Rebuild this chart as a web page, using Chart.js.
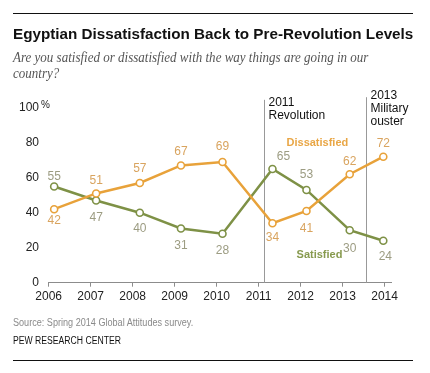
<!DOCTYPE html>
<html>
<head>
<meta charset="utf-8">
<script src="https://cdn.jsdelivr.net/npm/chart.js@4.4.1/dist/chart.umd.min.js"></script>
<style>
  html, body { margin: 0; padding: 0; background: #fff; }
  #wrap { position: relative; width: 430px; height: 373px; overflow: hidden; }
  canvas { position: absolute; left: 0; top: 0; }
  .rule { position: absolute; left: 13px; width: 400px; height: 1px; background: #111; }
  .txt { position: absolute; left: 13px; white-space: nowrap; display: inline-block; transform-origin: 0 0; }
  #title { top: 26px; font: bold 15px/15px "Liberation Sans", Arial, sans-serif; color: #111; }
  .sub { font: italic 14px/14px "Liberation Serif", serif; color: #555; }
  #src { top: 318px; font: 10px/10px "Liberation Sans", Arial, sans-serif; color: #8a8a8a; }
  #pew { top: 336px; font: 10px/10px "Liberation Sans", Arial, sans-serif; color: #111; }
</style>
</head>
<body>
<div id="wrap">
  <canvas id="chart" width="430" height="373"></canvas>
  <div class="rule" style="top:13px"></div>
  <div class="txt" id="title" data-w="400">Egyptian Dissatisfaction Back to Pre-Revolution Levels</div>
  <div class="txt sub" id="sub1" style="top:51px" data-w="355">Are you satisfied or dissatisfied with the way things are going in our</div>
  <div class="txt sub" id="sub2" style="top:67px">country?</div>
  <div class="txt" id="src" data-w="180">Source: Spring 2014 Global Attitudes survey.</div>
  <div class="txt" id="pew" data-w="108">PEW RESEARCH CENTER</div>
  <div class="rule" style="top:360px"></div>
</div>
<script>
// survey dates (fractional years) and answers, in %
const surveyDates = [2006.13, 2007.13, 2008.17, 2009.15, 2010.14, 2011.33, 2012.14, 2013.17, 2013.97]
const dissatisfied = [42, 51, 57, 67, 69, 34, 41, 62, 72]
const satisfied = [55, 47, 40, 31, 28, 65, 53, 30, 24]
const yearTicks = [2006, 2007, 2008, 2009, 2010, 2011, 2012, 2013, 2014]
const yTicks = [0, 20, 40, 60, 80, 100]
const events = [
  {x: 2011.12, top: 104.5, labelY: 103, lines: ['2011', 'Revolution']},
  {x: 2013.55, top: 106, labelY: 107, lines: ['2013', 'Military', 'ouster']}
]

// fit header / footer text widths
document.querySelectorAll('.txt').forEach(el => {
  const w = el.dataset.w
  if (w) el.style.transform = 'scaleX(' + (w / el.scrollWidth) + ')'
})
const s1 = document.getElementById('sub1')
document.getElementById('sub2').style.transform = s1.style.transform

const ORANGE = '#e8a23a'
const GREEN = '#7e9146'
const FONT = '"Liberation Sans", Arial, sans-serif'

const toPoints = vals => vals.map((v, i) => ({x: surveyDates[i], y: v}))

// label offsets (px) for each point's value
const labelOffsets = {
  0: [[0, 11], [0, -13], [0, -14], [0, -14], [0, -15], [0, 14], [0, 18], [0, -13], [0, -13]],
  1: [[0, -10], [0, 17], [0, 16], [0, 17], [0, 17], [11, -12], [0, -15], [0, 18], [2, 16]]
}

const overlay = {
  id: 'overlay',
  beforeDatasetsDraw(chart) {
    const {ctx, scales: {x, y}, chartArea} = chart
    ctx.save()
    events.forEach(ev => {
      const px = Math.round(x.getPixelForValue(ev.x)) + 0.5
      ctx.strokeStyle = '#999'
      ctx.lineWidth = 1
      ctx.beginPath()
      ctx.moveTo(px, y.getPixelForValue(ev.top))
      ctx.lineTo(px, chartArea.bottom)
      ctx.stroke()
      ctx.fillStyle = '#111'
      ctx.font = '12px ' + FONT
      ctx.textAlign = 'left'
      ctx.textBaseline = 'middle'
      const y0 = y.getPixelForValue(ev.labelY)
      ev.lines.forEach((t, k) => ctx.fillText(t, px + 4, y0 + k * 13))
    })
    ctx.restore()
  },
  afterDatasetsDraw(chart) {
    const {ctx, scales: {x, y}} = chart
    ctx.save()
    ctx.textAlign = 'center'
    ctx.textBaseline = 'middle'
    ctx.font = '12px ' + FONT
    chart.data.datasets.forEach((ds, i) => {
      const meta = chart.getDatasetMeta(i)
      ctx.fillStyle = ds.labelColor
      meta.data.forEach((pt, j) => {
        const [dx, dy] = labelOffsets[i][j]
        ctx.fillText(ds.data[j].y, pt.x + dx, pt.y + dy)
      })
    })
    // series names
    ctx.font = 'bold 11px ' + FONT
    ctx.fillStyle = '#e9a645'
    ctx.fillText('Dissatisfied', x.getPixelForValue(2012.4), y.getPixelForValue(80))
    ctx.fillStyle = '#879a4e'
    ctx.fillText('Satisfied', x.getPixelForValue(2012.45), y.getPixelForValue(16))
    // percent sign on top tick
    ctx.font = '10px ' + FONT
    ctx.fillStyle = '#222'
    ctx.textAlign = 'left'
    ctx.fillText('%', 41, y.getPixelForValue(100) - 2)
    ctx.restore()
  }
}

new Chart(document.getElementById('chart').getContext('2d'), {
  type: 'line',
  data: {
    datasets: [
      {label: 'Dissatisfied', data: toPoints(dissatisfied), borderColor: ORANGE, labelColor: '#d9a45f'},
      {label: 'Satisfied', data: toPoints(satisfied), borderColor: GREEN, labelColor: '#9c9c82'}
    ].map(d => ({
      ...d,
      borderWidth: 2.5,
      pointRadius: 3.5,
      pointBorderWidth: 1.6,
      pointBackgroundColor: '#fff',
      pointBorderColor: d.borderColor,
      tension: 0,
      clip: false
    }))
  },
  options: {
    responsive: false,
    animation: false,
    devicePixelRatio: 1,
    layout: {padding: {top: 107.7, left: 0, right: 38.3, bottom: 66.3}},
    plugins: {legend: {display: false}, tooltip: {enabled: false}},
    scales: {
      x: {
        type: 'linear',
        min: 2006,
        max: 2014.17,
        afterBuildTicks: s => { s.ticks = yearTicks.map(v => ({value: v})) },
        afterFit: s => { s.height = 24 },
        border: {display: true, color: '#8c8c8c', width: 1},
        grid: {drawOnChartArea: false, drawTicks: true, tickLength: 4, color: '#8c8c8c'},
        ticks: {color: '#222', font: {family: FONT, size: 12}, padding: 3, maxRotation: 0,
          autoSkip: false, callback: v => String(v)}
      },
      y: {
        min: 0,
        max: 100,
        afterBuildTicks: s => { s.ticks = yTicks.map(v => ({value: v})) },
        afterFit: s => { s.width = 48.7 },
        border: {display: false},
        grid: {display: false, drawTicks: false},
        ticks: {color: '#222', font: {family: FONT, size: 12}, padding: 9.7}
      }
    }
  },
  plugins: [overlay]
})
</script>
</body>
</html>
